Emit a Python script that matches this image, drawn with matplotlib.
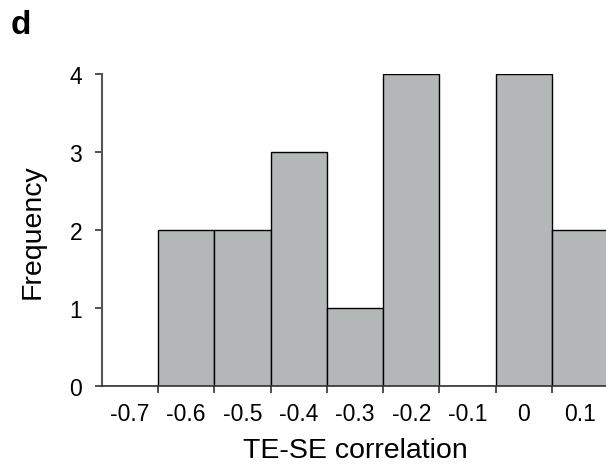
import numpy as np
import matplotlib.pyplot as plt

plt.rcParams['font.family'] = ['Liberation Sans', 'DejaVu Sans']

# bin centres and counts
bin_centers = [-0.7, -0.6, -0.5, -0.4, -0.3, -0.2, -0.1, 0.0, 0.1]
counts = [0, 2, 2, 3, 1, 4, 0, 4, 2]
tick_labels = ['-0.7', '-0.6', '-0.5', '-0.4', '-0.3', '-0.2', '-0.1', '0', '0.1']
bin_width = 0.1

fig = plt.figure(figsize=(6.06, 4.77), dpi=100)
ax = fig.add_axes([0.1678, 0.188, 0.836, 0.654])

ax.bar(bin_centers, counts, width=bin_width, color='#b4b7b7',
       edgecolor='black', linewidth=1.0, zorder=2)

ax.set_xlim(-0.75, 0.15)
ax.set_ylim(0, 4)

# ticks sit on bin edges, labels in the middle of the bins
edges = np.array(bin_centers[1:]) - bin_width / 2
ax.set_xticks(edges)
ax.set_xticklabels([])
ax.set_xticks(bin_centers, minor=True)
ax.set_xticklabels(tick_labels, minor=True, fontsize=16.5)
ax.tick_params(axis='x', which='minor', length=0, pad=11)
ax.tick_params(axis='x', which='major', length=5, width=1.2, color='#333333')

ax.set_yticks([0, 1, 2, 3, 4])
ax.set_yticklabels(['0', '1', '2', '3', '4'], fontsize=16.5)
ax.tick_params(axis='y', length=5, width=1.2, color='#333333', pad=9)

for s in ['top', 'right']:
    ax.spines[s].set_visible(False)
ax.spines['left'].set_color('#555555')
ax.spines['left'].set_linewidth(1.5)
ax.spines['bottom'].set_color('#333333')
ax.spines['bottom'].set_linewidth(1.2)

ax.set_xlabel('TE-SE correlation', fontsize=20.5, labelpad=9)
ax.set_ylabel('Frequency', fontsize=20.5, labelpad=17)

fig.text(0.018, 0.98, 'd', fontsize=24, fontweight='bold', va='top', ha='left')

fig.savefig('out.png', dpi=100)
